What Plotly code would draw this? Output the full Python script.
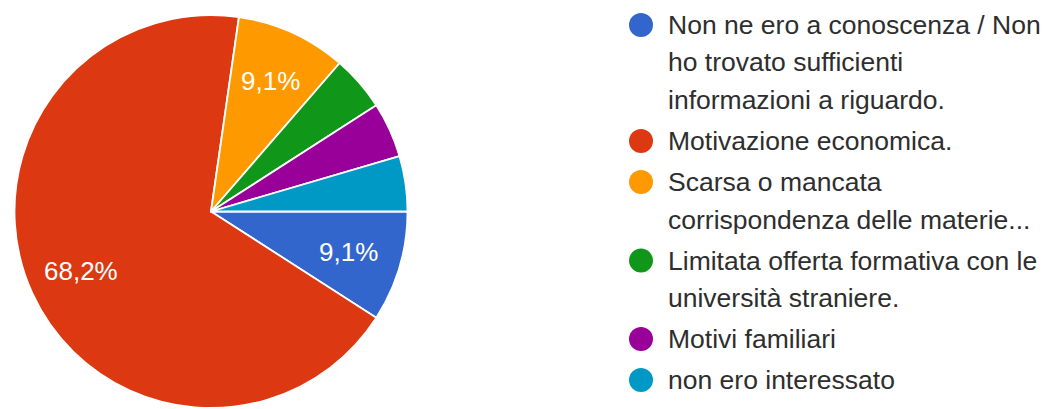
import math
import plotly.graph_objects as go

categories = [
    "Non ne ero a conoscenza / Non ho trovato sufficienti informazioni a riguardo.",
    "Motivazione economica.",
    "Scarsa o mancata corrispondenza delle materie...",
    "Limitata offerta formativa con le università straniere.",
    "Motivi familiari",
    "non ero interessato",
]
legend_lines = [
    ["Non ne ero a conoscenza / Non", "ho trovato sufficienti", "informazioni a riguardo."],
    ["Motivazione economica."],
    ["Scarsa o mancata", "corrispondenza delle materie..."],
    ["Limitata offerta formativa con le", "università straniere."],
    ["Motivi familiari"],
    ["non ero interessato"],
]
counts = [2, 15, 2, 1, 1, 1]
colors = ["#3366cc", "#dc3912", "#ff9900", "#109618", "#990099", "#0099c6"]

total = sum(counts)
fracs = [c / total for c in counts]
pct_labels = [f"{f * 100:.1f}%".replace(".", ",") if f >= 0.05 else "" for f in fracs]

W, H = 1047, 409
FONT = "Liberation Sans, Arial, sans-serif"

# pie domain (pixels)
px0, px1 = 14.5, 407.5
py_top, py_bot = 15.0, 408.0
dom_x = [px0 / W, px1 / W]
dom_y = [(H - py_bot) / H, (H - py_top) / H]

fig = go.Figure()
fig.add_trace(go.Pie(
    labels=categories,
    values=counts,
    textinfo="none",
    marker=dict(colors=colors, line=dict(color="white", width=1.8)),
    sort=False,
    direction="clockwise",
    rotation=90,
    showlegend=False,
    hoverinfo="label+percent",
    domain=dict(x=dom_x, y=dom_y),
))

annotations = []
shapes = []

# percentage labels inside slices (Google Forms style placement)
cx = (px0 + px1) / 2
cy = (py_top + py_bot) / 2
R = min(px1 - px0, py_bot - py_top) / 2
start = 0.0  # degrees clockwise from 3 o'clock
for f, lab in zip(fracs, pct_labels):
    mid = math.radians(start + f * 360 / 2)
    start += f * 360
    if not lab:
        continue
    r = 0.73 * R
    lx = cx + r * math.cos(mid)
    ly = cy + r * math.sin(mid)
    annotations.append(dict(
        text=lab, xref="paper", yref="paper",
        x=lx / W, y=(H - ly) / H, xanchor="center", yanchor="middle",
        showarrow=False, font=dict(family=FONT, size=26, color="white"),
    ))

# custom legend (matching the wide line spacing of the original)
y = 25.0
line_h = 37.5
item_gap = 41.0
circle_x = 641
circle_r = 12
text_x = 666
for i, lines in enumerate(legend_lines):
    yc = y
    shapes.append(dict(
        type="circle", xref="paper", yref="paper",
        x0=(circle_x - circle_r) / W, x1=(circle_x + circle_r) / W,
        y0=(H - yc - circle_r) / H, y1=(H - yc + circle_r) / H,
        fillcolor=colors[i], line=dict(width=0),
    ))
    for j, ln in enumerate(lines):
        yl = y + j * line_h
        annotations.append(dict(
            text=ln, xref="paper", yref="paper",
            x=text_x / W, y=(H - yl) / H,
            xanchor="left", yanchor="middle", showarrow=False,
            font=dict(family=FONT, size=26.5, color="#2e2e2e"),
        ))
    y += (len(lines) - 1) * line_h + item_gap

fig.update_layout(
    width=W, height=H,
    margin=dict(l=0, r=0, t=0, b=0),
    paper_bgcolor="white",
    plot_bgcolor="white",
    shapes=shapes,
    annotations=annotations,
)

fig.write_html("out.html", config={"displayModeBar": False},
               post_script="document.body.style.margin='0';")
